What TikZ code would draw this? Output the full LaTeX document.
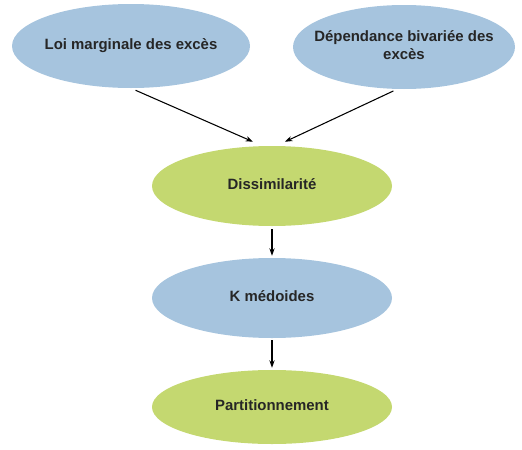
\documentclass[tikz,border=0pt]{standalone}
\usepackage{fontspec}
\usetikzlibrary{arrows.meta}
\usetikzlibrary{shapes.geometric}
\newfontfamily\etapefont{Liberation Sans}
\newcommand\etiq[1]{\makebox[0pt]{\begin{tabular}{@{}c@{}}#1\end{tabular}}}
\def\px{0.75pt}
\definecolor{bleu}{RGB}{166,196,222}
\definecolor{vert}{RGB}{196,216,112}

\begin{document}
\begin{tikzpicture}[
    x=\px, y=-\px,
    arrowtip/.style={
      -{Stealth[length=5.6pt,width=4pt]}, line width=0.8pt
    },
    etape/.style={
      ellipse, inner sep=0pt, minimum height=80*\px, minimum width=240*\px,
      font=\etapefont\bfseries\fontsize{11.2}{13.2}\selectfont, text=black!85
    },
    bleue/.style={
      etape, fill=bleu
    },
    verte/.style={
      etape, fill=vert
    }
  ]
    \useasboundingbox (0,0) rectangle (522,450);

    % top inputs
    \node[bleue, minimum width=238*\px, minimum height=84*\px] (loi) at (131,46) { \etiq{Loi marginale des excès} };
    \node[bleue, minimum width=222*\px, minimum height=84*\px] (dep) at (404,47) { \etiq{Dépendance bivariée des\\excès} };

    % chain
    \node[verte]                          (diss) at (272,186) { \etiq{Dissimilarité} };
    \node[bleue]                          (kmed) at (272,298) { \etiq{K médoides} };
    \node[verte, minimum height=74*\px]   (part) at (272,407) { \etiq{Partitionnement} };

    % arrows
    \draw[arrowtip, shorten <=5*\px] (loi.south) -- ([xshift=-19*\px, yshift=4*\px]diss.north);
    \draw[arrowtip, shorten <=4*\px] ([xshift=-7*\px]dep.south) -- ([xshift=13*\px, yshift=4*\px]diss.north);
    \draw[arrowtip, shorten <=3*\px, shorten >=2*\px] (diss) -- (kmed);
    \draw[arrowtip, shorten <=2*\px, shorten >=2*\px] (kmed) -- (part);
  \end{tikzpicture}
\end{document}
